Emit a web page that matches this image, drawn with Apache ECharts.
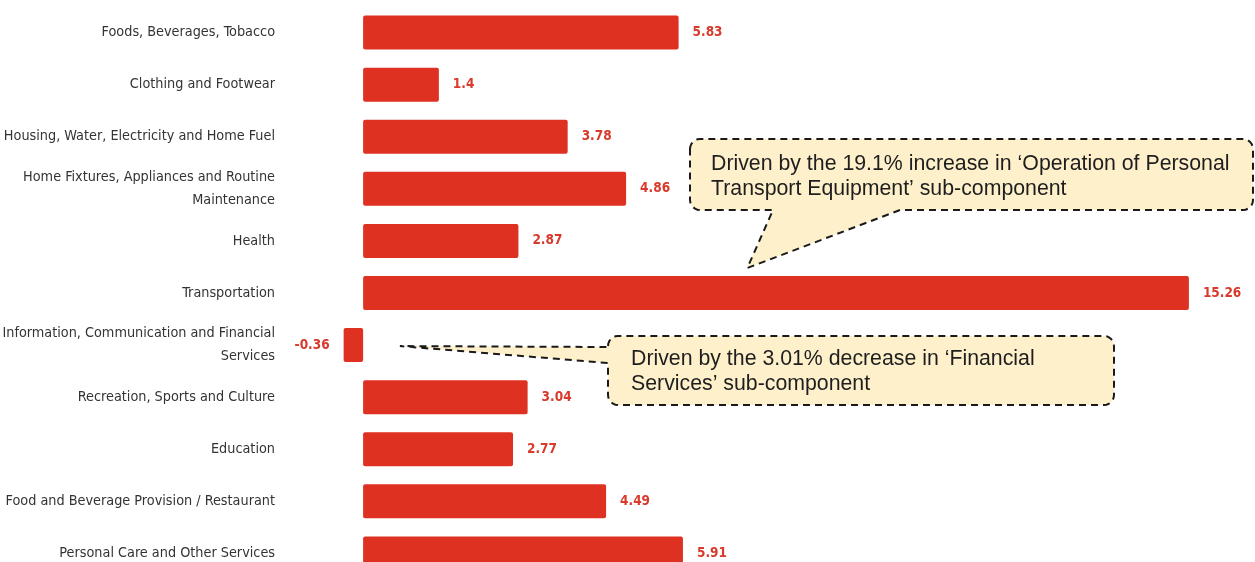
<!DOCTYPE html>
<html>
<head>
<meta charset="utf-8">
<script src="https://cdn.jsdelivr.net/npm/echarts@6/dist/echarts.min.js"></script>
<style>
  html, body { margin: 0; padding: 0; background: #fff; }
  #chart { width: 1255px; height: 562px; }
</style>
</head>
<body>
<div id="chart"></div>
<script>
// Year-on-year change by expenditure group (%)
const categories = [
  'Foods, Beverages, Tobacco',
  'Clothing and Footwear',
  'Housing, Water, Electricity and Home Fuel',
  'Home Fixtures, Appliances and Routine Maintenance',
  'Health',
  'Transportation',
  'Information, Communication and Financial Services',
  'Recreation, Sports and Culture',
  'Education',
  'Food and Beverage Provision / Restaurant',
  'Personal Care and Other Services'
];
const values = [5.83, 1.4, 3.78, 4.86, 2.87, 15.26, -0.36, 3.04, 2.77, 4.49, 5.91];

const notes = [
  'Driven by the 19.1% increase in ‘Operation of Personal\nTransport Equipment’ sub-component',
  'Driven by the 3.01% decrease in ‘Financial\nServices’ sub-component'
];

const BAR = '#de3121';
const LABEL_RED = '#d83a2c';
const NARROW = '"DejaVu Sans Condensed", "Liberation Sans", sans-serif';

const chart = echarts.init(document.getElementById('chart'), null, { renderer: 'canvas' });

const barData = values.map(v => v < 0
  ? { value: v, label: { position: 'left' } }
  : v);

chart.setOption({
  animation: false,
  grid: { left: 309, top: 6.5, width: 947, height: 573, containLabel: false, outerBoundsMode: 'none' },
  xAxis: {
    type: 'value', min: -1, max: 16.5,
    show: false
  },
  yAxis: {
    type: 'category',
    data: categories,
    inverse: true,
    axisLine: { show: false, onZero: false },
    axisTick: { show: false },
    axisLabel: {
      margin: 34,
      color: '#333',
      fontFamily: NARROW,
      fontSize: 14.3,
      lineHeight: 23,
      padding: [4, 0, 0, 0],
      formatter: name => {
        if (name.length > 45) {
          const i = name.lastIndexOf(' ');
          return name.slice(0, i) + '\n' + name.slice(i + 1);
        }
        return name;
      }
    }
  },
  series: [{
    type: 'bar',
    data: barData,
    barWidth: 34,
    itemStyle: { color: BAR, borderRadius: 2 },
    label: {
      show: true,
      position: 'right',
      distance: 14,
      color: LABEL_RED,
      fontFamily: NARROW,
      fontWeight: 'bold',
      fontSize: 13.5,
      padding: [2, 0, 0, 0]
    }
  }]
});

// Quarter-circle corner points, from angle a0 to a1 around centre (cx, cy)
function arc(cx, cy, r, a0, a1) {
  const pts = [];
  for (let k = 0; k <= 6; k++) {
    const a = a0 + (a1 - a0) * k / 6;
    pts.push([cx + r * Math.cos(a), cy + r * Math.sin(a)]);
  }
  return pts;
}

// Callout box with dashed outline and a pointer tail
function callout(box, tail, r) {
  const { L, T, R, B } = box;
  const P = Math.PI;
  let pts = [];
  pts = pts.concat(arc(L + r, T + r, r, P, 1.5 * P));          // top-left
  pts = pts.concat(arc(R - r, T + r, r, 1.5 * P, 2 * P));      // top-right
  pts = pts.concat(arc(R - r, B - r, r, 0, 0.5 * P));          // bottom-right
  if (tail.side === 'bottom') {
    pts.push([tail.b, B], tail.tip, [tail.a, B]);
    pts = pts.concat(arc(L + r, B - r, r, 0.5 * P, P));        // bottom-left
  } else {
    pts = pts.concat(arc(L + r, B - r, r, 0.5 * P, P));        // bottom-left
    pts.push([L, tail.b], tail.tip, [L, tail.a]);
  }
  return {
    type: 'polygon',
    shape: { points: pts },
    style: { fill: '#fdf0cb', stroke: '#1a1a1a', lineWidth: 2, lineDash: [7, 5] },
    z: 10
  };
}

const tBand = chart.convertToPixel({ seriesIndex: 0 }, [7.1, 'Transportation']);
const iBand = chart.convertToPixel({ seriesIndex: 0 }, [0.68, categories[6]]);
const tip1 = [tBand[0], tBand[1] - 25];
const tip2 = [iBand[0], iBand[1] + 1];

const TXT = { fill: '#1e1e1e', fontFamily: '"Liberation Sans", Arial, sans-serif', fontSize: 21.3, lineHeight: 25 };

chart.setOption({
  graphic: [
    callout({ L: 690, T: 139, R: 1253, B: 210 }, { side: 'bottom', a: 773, b: 900, tip: tip1 }, 10),
    { type: 'text', left: 711, top: 152, z: 11, style: Object.assign({ text: notes[0] }, TXT) },
    callout({ L: 608, T: 336, R: 1114, B: 405 }, { side: 'left', a: 347, b: 363, tip: tip2 }, 10),
    { type: 'text', left: 631, top: 347, z: 11, style: Object.assign({ text: notes[1] }, TXT) }
  ]
});
</script>
</body>
</html>
